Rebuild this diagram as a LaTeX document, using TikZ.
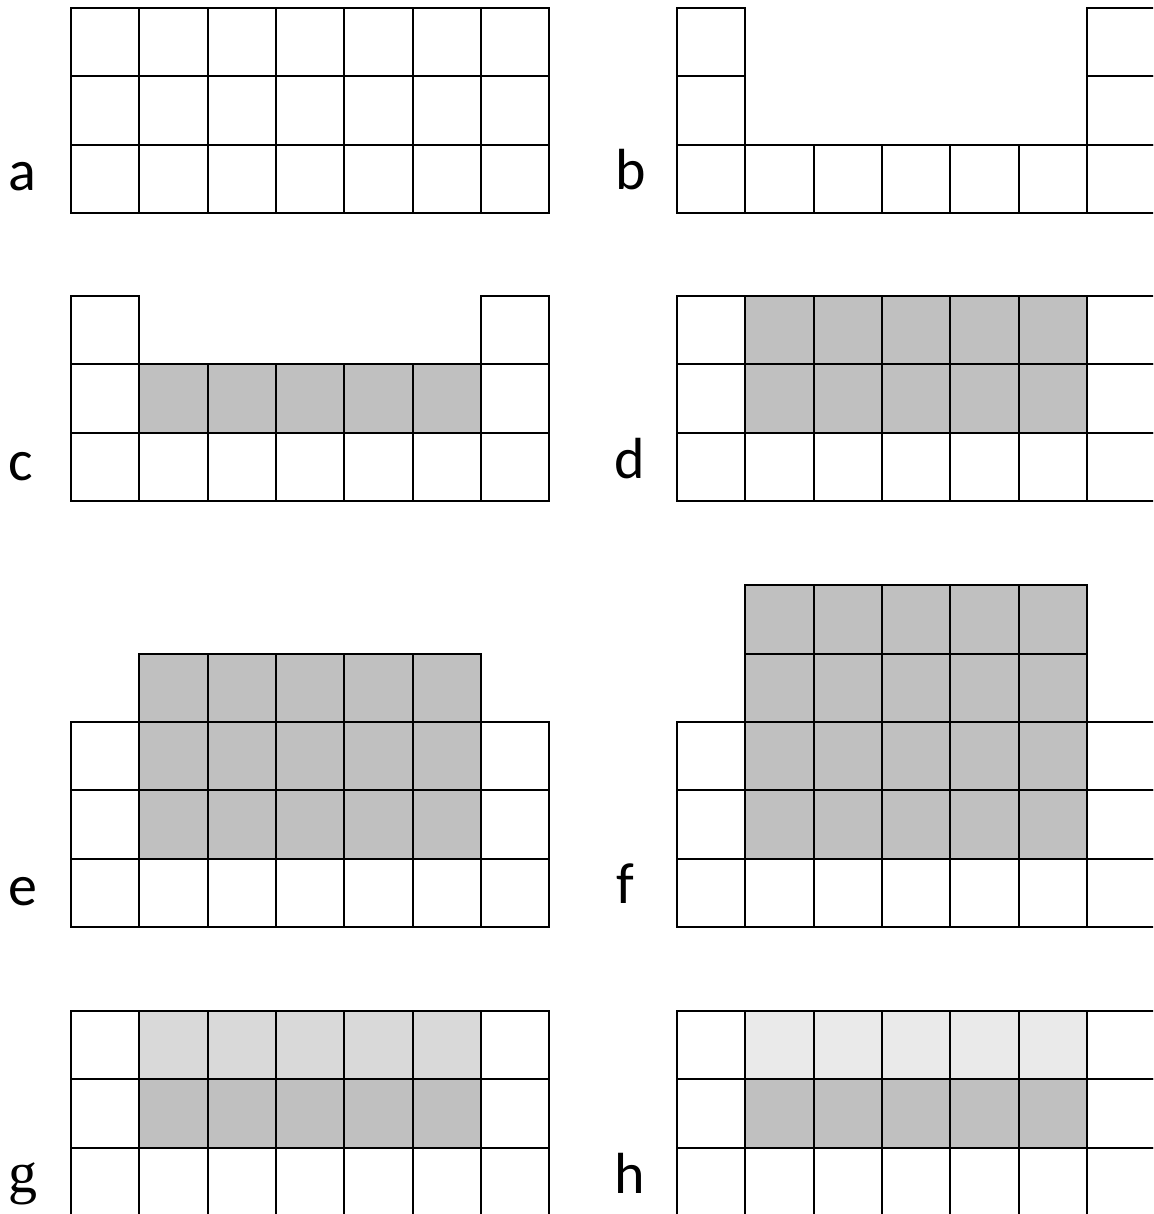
\documentclass[tikz,border=0pt]{standalone}
\usepackage{fontspec}
\setmainfont{Carlito}
\newfontfamily\gfont{Liberation Serif}
\definecolor{darkcell}{HTML}{C0C0C0}
\definecolor{midcell}{HTML}{D9D9D9}
\definecolor{palecell}{HTML}{EAEAEA}
\tikzset{
  cellbox/.style={draw=black, line width=2.2pt, fill=white},
  graycell/.style={cellbox, fill=darkcell},
  midgraycell/.style={cellbox, fill=midcell},
  palegraycell/.style={cellbox, fill=palecell},
  panellabel/.style={anchor=base, inner sep=0pt, font=\fontsize{58}{60}\selectfont}
}
\def\cs{68.33}
% \Cell{x0}{ybottom}{col}{row from bottom}{style}
\newcommand\Cell[5]{%
  \path[#5] ({#1+#3*\cs},{#2-#4*\cs}) rectangle ({#1+(#3+1)*\cs},{#2-(#4+1)*\cs});}
\begin{document}
\begin{tikzpicture}[x=1pt,y=-1pt]
\useasboundingbox (0,0) rectangle (1153,1214);
\clip (0,0) rectangle (1153,1214);
\fill[white] (0,0) rectangle (1153,1214);
% ---- a ----
\foreach \r in {0,1,2}{\foreach \c in {0,...,6}{\Cell{71}{213}{\c}{\r}{cellbox}}}
% ---- b ----
\foreach \c in {0,...,6}{\Cell{677}{213}{\c}{0}{cellbox}}
\foreach \r in {1,2}{\Cell{677}{213}{0}{\r}{cellbox}\Cell{677}{213}{6}{\r}{cellbox}}
% ---- c ----
\foreach \c in {0,...,6}{\Cell{71}{501}{\c}{0}{cellbox}}
\foreach \r in {1,2}{\Cell{71}{501}{0}{\r}{cellbox}\Cell{71}{501}{6}{\r}{cellbox}}
\foreach \c in {1,...,5}{\Cell{71}{501}{\c}{1}{graycell}}
% ---- d ----
\foreach \c in {0,...,6}{\Cell{677}{501}{\c}{0}{cellbox}}
\foreach \r in {1,2}{\Cell{677}{501}{0}{\r}{cellbox}\Cell{677}{501}{6}{\r}{cellbox}
  \foreach \c in {1,...,5}{\Cell{677}{501}{\c}{\r}{graycell}}}
% ---- e ----
\foreach \c in {0,...,6}{\Cell{71}{927}{\c}{0}{cellbox}}
\foreach \r in {1,2}{\Cell{71}{927}{0}{\r}{cellbox}\Cell{71}{927}{6}{\r}{cellbox}}
\foreach \r in {1,2,3}{\foreach \c in {1,...,5}{\Cell{71}{927}{\c}{\r}{graycell}}}
% ---- f ----
\foreach \c in {0,...,6}{\Cell{677}{927}{\c}{0}{cellbox}}
\foreach \r in {1,2}{\Cell{677}{927}{0}{\r}{cellbox}\Cell{677}{927}{6}{\r}{cellbox}}
\foreach \r in {1,2,3,4}{\foreach \c in {1,...,5}{\Cell{677}{927}{\c}{\r}{graycell}}}
% ---- g ----
\foreach \c in {0,...,6}{\Cell{71}{1216}{\c}{0}{cellbox}}
\foreach \r in {1,2}{\Cell{71}{1216}{0}{\r}{cellbox}\Cell{71}{1216}{6}{\r}{cellbox}}
\foreach \c in {1,...,5}{\Cell{71}{1216}{\c}{1}{graycell}\Cell{71}{1216}{\c}{2}{midgraycell}}
% ---- h ----
\foreach \c in {0,...,6}{\Cell{677}{1216}{\c}{0}{cellbox}}
\foreach \r in {1,2}{\Cell{677}{1216}{0}{\r}{cellbox}\Cell{677}{1216}{6}{\r}{cellbox}}
\foreach \c in {1,...,5}{\Cell{677}{1216}{\c}{1}{graycell}\Cell{677}{1216}{\c}{2}{palegraycell}}
% ---- labels ----
\node[panellabel] (la) at (22,191) {a};
\node[panellabel] (lb) at (631,190) {b};
\node[panellabel] (lc) at (21,480) {c};
\node[panellabel] (ld) at (630,478) {d};
\node[panellabel] (le) at (23,905) {e};
\node[panellabel] (lf) at (625,903) {f};
\node[panellabel, font=\gfont\fontsize{58}{60}\selectfont] (lg) at (23,1192) {g};
\node[panellabel] (lh) at (630,1193) {h};
\end{tikzpicture}
\end{document}
